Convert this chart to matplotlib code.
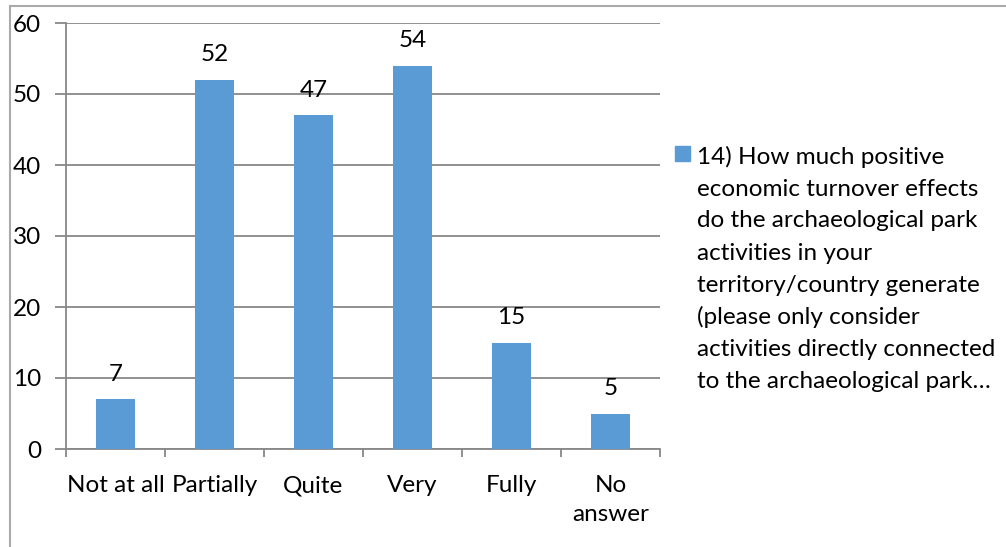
import matplotlib.pyplot as plt
from matplotlib.lines import Line2D
from matplotlib.patches import Rectangle

# chart data
categories = ['Not at all', 'Partially', 'Quite', 'Very', 'Fully', 'No\nanswer']
values = [7, 52, 47, 54, 15, 5]
legend_lines = [
    '14) How much positive',
    'economic turnover effects',
    'do the archaeological park',
    'activities in your',
    'territory/country generate',
    '(please only consider',
    'activities directly connected',
    'to the archaeological park\u2026',
]

bar_color = '#5B9BD5'
grid_color = '#888888'
W, H = 1006, 547

plt.rcParams['font.family'] = ['Lato', 'DejaVu Sans']
fs = 17.5

fig = plt.figure(figsize=(W / 100, H / 100), dpi=100)
ax = fig.add_axes([66 / W, 1 - 449 / H, (660 - 66) / W, (449 - 23) / H])

x = list(range(len(categories)))
bars = ax.bar(x, values, width=0.4, color=bar_color, zorder=3)
for xi, v in zip(x, values):
    ax.annotate(str(v), (xi, v), xytext=(0, 18), textcoords='offset points',
                ha='center', va='center', fontsize=fs)

ax.set_xlim(-0.5, len(categories) - 0.5)
ax.set_ylim(0, 60)
ax.set_yticks(range(0, 61, 10))
ax.yaxis.grid(True, color=grid_color, linewidth=1.3, zorder=0)
ax.set_xticks(x)
ax.set_xticklabels(categories, fontsize=fs, linespacing=1.45)
ax.set_xticks([i - 0.5 for i in range(len(categories) + 1)], minor=True)
ax.tick_params(axis='x', which='major', length=0, pad=19)
ax.tick_params(axis='x', which='minor', length=6, width=1.3, color=grid_color)
ax.tick_params(axis='y', length=8, width=1.3, color=grid_color, pad=10, labelsize=fs)

for s in ['top', 'right']:
    ax.spines[s].set_visible(False)
for s in ['left', 'bottom']:
    ax.spines[s].set_color(grid_color)
    ax.spines[s].set_linewidth(1.3)

# legend drawn by hand so the marker sits next to the first line
fig.add_artist(Rectangle((675 / W, 1 - 161 / H), 15 / W, 15 / H,
                         transform=fig.transFigure, color=bar_color))
for i, line in enumerate(legend_lines):
    fig.text(697 / W, 1 - (157 + 32 * i) / H, line, fontsize=fs, va='center', ha='left')

# outer chart border
frame_color = '#AAAAAA'
fig.add_artist(Line2D([10 / W, 10 / W], [0, 1 - 6 / H], transform=fig.transFigure,
                      color=frame_color, linewidth=1.5))
fig.add_artist(Line2D([10 / W, 1], [1 - 6 / H, 1 - 6 / H], transform=fig.transFigure,
                      color=frame_color, linewidth=1.5))

fig.savefig('out.png', dpi=100)
